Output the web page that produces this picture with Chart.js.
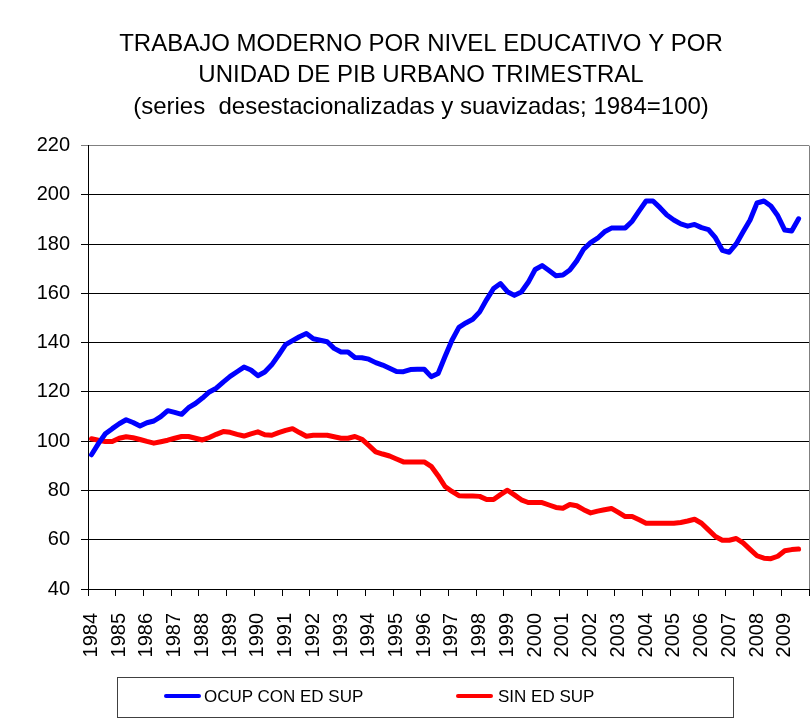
<!DOCTYPE html>
<html>
<head>
<meta charset="utf-8">
<script src="https://cdn.jsdelivr.net/npm/chart.js@4"></script>
<style>
  body { margin: 0; background: #fff; }
  #wrap { position: relative; width: 811px; height: 721px; }
  #legendBox {
    position: absolute; left: 117px; top: 677px; width: 615px; height: 39px;
    border: 1px solid #404040; box-sizing: content-box;
    font-family: 'Liberation Sans', Arial, sans-serif; font-size: 17px; color: #000;
  }
  .swatch { position: absolute; top: 16px; width: 37px; height: 4px; border-radius: 2px; }
  .lbl { position: absolute; top: 9px; line-height: 20px; white-space: nowrap; }
</style>
</head>
<body>
<div id="wrap">
  <canvas id="myChart" width="811" height="721"></canvas>
  <div id="legendBox">
    <span class="swatch" style="left:46px;background:#0000ff"></span>
    <span class="lbl" id="lbl0" style="left:86px"></span>
    <span class="swatch" style="left:338px;background:#ff0000"></span>
    <span class="lbl" id="lbl1" style="left:380px"></span>
  </div>
</div>
<script>
'use strict';

const titleLines = [
  'TRABAJO MODERNO POR NIVEL EDUCATIVO Y POR',
  'UNIDAD DE PIB URBANO TRIMESTRAL',
  '(series  desestacionalizadas y suavizadas; 1984=100)'
];
const years = [1984,1985,1986,1987,1988,1989,1990,1991,1992,1993,1994,1995,1996,
  1997,1998,1999,2000,2001,2002,2003,2004,2005,2006,2007,2008,2009];
const seriesNames = ['OCUP CON ED SUP', 'SIN ED SUP'];

// trimestral, 1984T1 .. 2009T3
const conEdSup = [
  94.5, 99, 103, 105.1, 107.1, 108.7, 107.6, 106.2, 107.5, 108.2,
  110, 112.4, 111.7, 110.9, 113.6, 115.3, 117.5, 120, 121.5, 124,
  126.3, 128.2, 130.1, 128.9, 126.6, 128.1, 131, 135, 139.2, 140.8,
  142.4, 143.7, 141.6, 141, 140.4, 137.7, 136.2, 136.2, 134, 133.9,
  133.3, 131.9, 130.9, 129.6, 128.3, 128.2, 129.1, 129.2, 129.2, 126.2,
  127.5, 134.4, 141, 146.2, 148, 149.5, 152.5, 157.5, 162, 164,
  160.7, 159.2, 160.6, 164.5, 169.7, 171.3, 169.3, 167.2, 167.5, 169.5,
  173.2, 178, 180.6, 182.4, 185, 186.5, 186.6, 186.6, 189.3, 193.5,
  197.5, 197.5, 194.8, 191.8, 189.8, 188.2, 187.3, 188, 186.7, 185.9,
  182.6, 177.5, 176.7, 180.1, 185, 189.8, 196.7, 197.5, 195.5, 191.5,
  185.7, 185.3, 190.3
];
const sinEdSup = [
  101, 100.4, 99.9, 99.9, 101.2, 101.8, 101.4, 100.7, 99.9, 99.2,
  99.8, 100.4, 101.2, 101.9, 101.9, 101.2, 100.5, 101.5, 102.8, 103.9,
  103.6, 102.8, 102.1, 103, 103.8, 102.6, 102.4, 103.5, 104.4, 105.1,
  103.5, 102, 102.4, 102.4, 102.4, 101.8, 101.2, 101.2, 101.9, 100.8,
  98.3, 95.7, 94.8, 94, 92.8, 91.6, 91.6, 91.6, 91.6, 89.8,
  86, 81.6, 79.6, 77.9, 77.8, 77.8, 77.6, 76.3, 76.3, 78.3,
  80.1, 78.2, 76.2, 75.1, 75.1, 75.1, 74.1, 73.1, 72.8, 74.3,
  73.8, 72.2, 70.9, 71.6, 72.2, 72.7, 71.1, 69.4, 69.4, 68.1,
  66.7, 66.7, 66.7, 66.7, 66.7, 67, 67.6, 68.3, 66.7, 64,
  61.3, 59.8, 59.8, 60.5, 58.7, 56.1, 53.5, 52.5, 52.3, 53.3,
  55.5, 56, 56.2
];

const quarters = years.flatMap(y => [y + ' T1', y + ' T2', y + ' T3', y + ' T4']);

document.getElementById('lbl0').textContent = seriesNames[0];
document.getElementById('lbl1').textContent = seriesNames[1];

const font = "'Liberation Sans', Arial, sans-serif";
const ctx = document.getElementById('myChart');

new Chart(ctx, {
  type: 'line',
  data: {
    labels: quarters,
    datasets: [{
      label: seriesNames[0],
      data: conEdSup,
      borderColor: '#0000ff',
      borderWidth: 5,
    }, {
      label: seriesNames[1],
      data: sinEdSup,
      borderColor: '#ff0000',
      borderWidth: 5,
    }]
  },
  options: {
    responsive: false,
    animation: false,
    devicePixelRatio: 1,
    layout: { padding: { top: 0, left: 33, right: 2, bottom: 0 } },
    elements: {
      point: { radius: 0 },
      line: { tension: 0, borderCapStyle: 'round', borderJoinStyle: 'round' }
    },
    scales: {
      x: {
        offset: true,
        afterFit: (scale) => {
          scale.height = 132;
          scale.paddingLeft = 0;
          scale.paddingRight = 0;
        },
        grid: {
          offset: true,
          drawOnChartArea: true,
          tickLength: 7,
          color: (c) => c.index === undefined ? '#808080' : 'transparent',
          tickColor: (c) => (c.index === undefined || c.index % 4 === 0) ? '#000' : 'transparent',
        },
        border: { color: '#000', width: 1 },
        ticks: {
          autoSkip: false,
          minRotation: 90,
          maxRotation: 90,
          padding: 17,
          color: '#000',
          font: { family: font, size: 20 },
          callback: (v, i) => i % 4 === 0 ? String(years[i / 4]) : '',
        }
      },
      y: {
        min: 40,
        max: 220,
        afterFit: (scale) => { scale.width = 55; },
        grid: {
          tickLength: 7,
          color: (c) => c.tick && c.tick.value === 220 ? '#808080' : '#000',
        },
        border: { color: '#000', width: 1 },
        ticks: {
          stepSize: 20,
          padding: 11,
          color: '#000',
          font: { family: font, size: 20 },
        }
      }
    },
    plugins: {
      legend: { display: false },
      tooltip: { enabled: false },
      title: {
        display: true,
        text: titleLines,
        color: '#000',
        padding: { top: 29, bottom: 23 },
        font: { family: font, size: 24, weight: 'normal', lineHeight: 1.3 }
      }
    }
  }
});
</script>
</body>
</html>
